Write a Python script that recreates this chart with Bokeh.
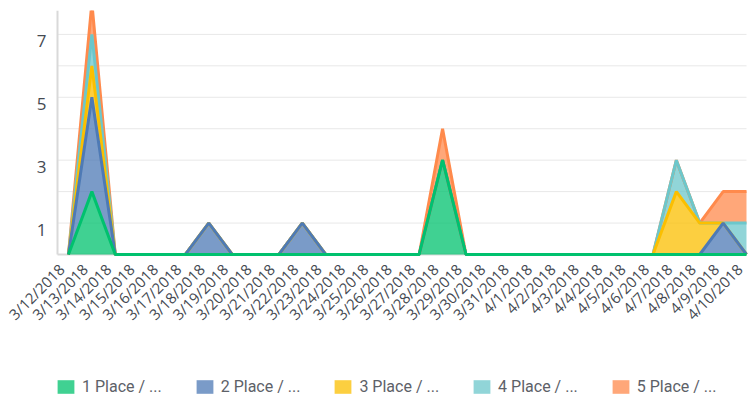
import numpy as np
from bokeh.plotting import figure
from bokeh.models import Range1d, Legend, LegendItem
from bokeh.core.properties import value
from bokeh.embed import file_html
from bokeh.resources import INLINE

dates = ["3/12/2018", "3/13/2018", "3/14/2018", "3/15/2018", "3/16/2018", "3/17/2018",
         "3/18/2018", "3/19/2018", "3/20/2018", "3/21/2018", "3/22/2018", "3/23/2018",
         "3/24/2018", "3/25/2018", "3/26/2018", "3/27/2018", "3/28/2018", "3/29/2018",
         "3/30/2018", "3/31/2018", "4/1/2018", "4/2/2018", "4/3/2018", "4/4/2018",
         "4/5/2018", "4/6/2018", "4/7/2018", "4/8/2018", "4/9/2018", "4/10/2018"]

place1 = [0, 2, 0, 0, 0, 0, 0, 0, 0, 0, 0, 0, 0, 0, 0, 0, 3, 0, 0, 0, 0, 0, 0, 0, 0, 0, 0, 0, 0, 0]
place2 = [0, 3, 0, 0, 0, 0, 1, 0, 0, 0, 1, 0, 0, 0, 0, 0, 0, 0, 0, 0, 0, 0, 0, 0, 0, 0, 0, 0, 1, 0]
place3 = [0, 1, 0, 0, 0, 0, 0, 0, 0, 0, 0, 0, 0, 0, 0, 0, 0, 0, 0, 0, 0, 0, 0, 0, 0, 0, 2, 1, 0, 0]
place4 = [0, 1, 0, 0, 0, 0, 0, 0, 0, 0, 0, 0, 0, 0, 0, 0, 0, 0, 0, 0, 0, 0, 0, 0, 0, 0, 1, 0, 0, 1]
place5 = [0, 1, 0, 0, 0, 0, 0, 0, 0, 0, 0, 0, 0, 0, 0, 0, 1, 0, 0, 0, 0, 0, 0, 0, 0, 0, 0, 0, 1, 1]

series_names = ["1 Place / ...", "2 Place / ...", "3 Place / ...", "4 Place / ...", "5 Place / ..."]
y_tick_values = [1, 3, 5, 7]
grid_values = [1, 2, 3, 4, 5, 6, 7]

colors = ["#00C16E", "#4E7AB5", "#FBBF00", "#6CC7CB", "#FF8A4C"]
series = [place1, place2, place3, place4, place5]

x = list(range(len(dates)))

# layout (pixels)
canvas_w = 749
frame_h = 395
axis_left_px = 57
plot_w_px = 689
x_lo, x_hi = -0.47, 29.0
y_hi = 7.76
px_per_x = plot_w_px / (x_hi - x_lo)
px_per_y = 244 / y_hi
x_frame_lo = x_lo - axis_left_px / px_per_x
x_frame_hi = x_frame_lo + canvas_w / px_per_x
y_lo = y_hi - frame_h / px_per_y

p = figure(frame_width=canvas_w, frame_height=frame_h, output_backend="svg",
           toolbar_location=None, x_axis_location=None, y_axis_location=None,
           x_range=Range1d(x_frame_lo, x_frame_hi), y_range=Range1d(y_lo, y_hi),
           min_border_left=0, min_border_right=0, min_border_top=10, min_border_bottom=0)
p.outline_line_color = None
p.background_fill_color = "white"
p.xgrid.visible = False
p.ygrid.visible = False

font = "Open Sans"
label_color = "#454a52"
axis_color = "#d9d9d9"

# horizontal gridlines
n_grid = len(grid_values)
p.segment(x0=[x_lo] * n_grid, y0=grid_values, x1=[x_hi] * n_grid, y1=grid_values,
          line_color="#e8e8e8", line_width=1)

# axis lines
p.segment(x0=[x_lo], y0=[0], x1=[x_hi], y1=[0], line_color=axis_color, line_width=2)
p.segment(x0=[x_lo], y0=[0], x1=[x_lo], y1=[y_hi], line_color=axis_color, line_width=2)

# y labels, a little below their gridlines
ylab_dx_px, ylab_dy_px = -11, 7
p.text(x=[x_lo + ylab_dx_px / px_per_x] * len(y_tick_values),
       y=[v - ylab_dy_px / px_per_y for v in y_tick_values],
       text=[str(v) for v in y_tick_values], text_align="right", text_baseline="middle",
       text_font=value(font), text_font_size="17px", text_color=label_color)

tops = np.cumsum(np.array(series, dtype=float), axis=0)
bottoms = np.vstack([np.zeros(len(x)), tops[:-1]])

areas = []
for i in range(len(series)):
    a = p.varea(x=x, y1=bottoms[i], y2=tops[i], fill_color=colors[i], fill_alpha=0.75)
    areas.append(a)
for i in reversed(range(len(series))):
    p.line(x=x, y=tops[i], line_color=colors[i], line_width=3)

# rotated category labels below the baseline
lab_dx_px, lab_dy_px = -7, 12
lab_x = [v + lab_dx_px / px_per_x for v in x]
lab_y = [-lab_dy_px / px_per_y] * len(x)
p.text(x=lab_x, y=lab_y, text=dates, angle=np.pi / 4, text_align="right",
       text_baseline="middle", text_font=value(font), text_font_size="15px",
       text_color=label_color)

items = [LegendItem(label=series_names[i], renderers=[areas[i]]) for i in range(len(series))]

legend = Legend(items=items, orientation="horizontal", location=(55, 9),
                glyph_width=21, glyph_height=17, label_height=17, label_standoff=6,
                spacing=32, padding=0, margin=0, border_line_color=None,
                background_fill_alpha=0,
                label_text_font="Roboto", label_text_font_size="16px",
                label_text_color="#5d6168")
p.add_layout(legend, "center")

open("out.html", "w").write(file_html(p, INLINE))
